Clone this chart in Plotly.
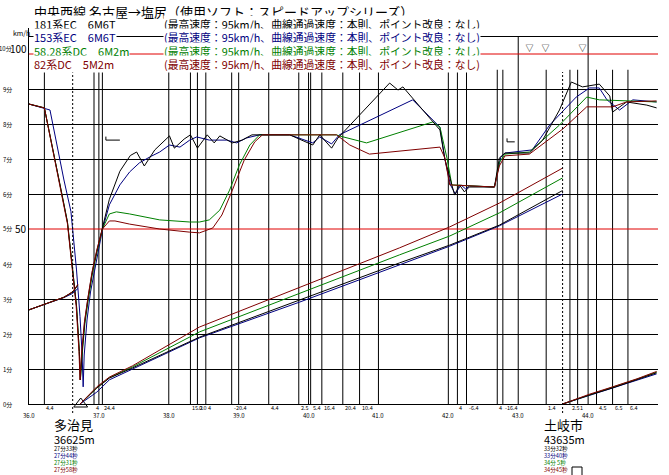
import plotly.graph_objects as go

FONT = "Noto Sans CJK JP"
W, H = 669, 475
L, R, T, B = 29, 11, 28, 71
PW, PH = W - L - R, H - T - B
KM_RANGE = [36.0, 45.0]
V_TOP = PH / 3.5          # 10 km/h per 35 px
MIN_TOP = V_TOP / 10.0    # time axis: 1 minute per grid step

title_text = "中央西線 名古屋→塩尻（使用ソフト：スピードアップシリーズ）"
series_names = ["181系EC　6M6T", "153系EC　6M6T", "58,28系DC　6M2m", "82系DC　5M2m"]
series_colors = ["#000000", "#000080", "#008000", "#800000"]
condition_text = "(最高速度：95km/h、曲線通過速度：本則、ポイント改良：なし)"

# ---------------- speed curves (km, km/h) ----------------
km_181 = [36.0, 36.22, 36.44, 36.55, 36.625, 36.68, 36.72, 36.735, 36.76, 36.80, 36.85, 36.91, 36.98, 37.05,
          37.15, 37.30, 37.45, 37.54, 37.65, 37.80, 38.01, 38.08, 38.22, 38.31, 38.41, 38.55, 38.65, 38.73,
          38.91, 39.05, 39.19, 39.73, 40.06, 40.16, 40.33, 40.42, 40.80, 41.16, 41.28, 41.35, 41.88, 41.95,
          42.05, 42.09, 42.16, 42.23, 42.30, 42.66, 42.73, 42.81, 43.16, 43.35, 43.59, 43.76, 43.92, 44.16,
          44.31, 44.35, 44.55, 44.84, 44.98]
v_181 = [85.7, 84.6, 63.0, 52.0, 38.3, 28.0, 15.0, 6.9, 15.0, 24.0, 31.0, 38.3, 44.5, 50.3,
         58.5, 66.5, 71.0, 72.0, 68.0, 72.6, 76.6, 73.1, 75.7, 76.9, 73.1, 76.9, 74.6, 76.6,
         74.6, 75.4, 76.9, 76.9, 74.0, 76.9, 73.1, 76.0, 84.0, 91.7, 89.7, 90.6, 78.3, 70.0,
         62.6, 59.7, 62.6, 60.6, 62.0, 62.0, 70.3, 71.7, 71.7, 75.4, 84.0, 92.0, 90.6, 91.4,
         88.0, 83.4, 86.3, 85.4, 84.6]

km_153 = [36.0, 36.22, 36.30, 36.50, 36.60, 36.68, 36.73, 36.76, 36.775, 36.79, 36.83, 36.88, 36.94, 37.05,
          37.15, 37.30, 37.44, 37.58, 37.73, 37.87, 38.01, 38.16, 38.30, 38.40, 38.58, 38.83, 38.97, 39.11,
          39.30, 39.73, 40.06, 40.16, 40.33, 40.44, 41.49, 41.88, 41.95, 42.03, 42.10, 42.18, 42.25, 42.30,
          42.66, 42.75, 42.81, 43.20, 43.45, 43.83, 44.02, 44.16, 44.27, 44.45, 44.64, 44.98]
v_153 = [85.7, 84.6, 84.0, 64.0, 55.0, 38.3, 25.0, 14.0, 4.9, 14.0, 24.0, 32.0, 38.3, 49.7,
         56.9, 62.6, 66.3, 68.9, 70.6, 72.0, 74.0, 73.4, 75.4, 76.3, 75.4, 75.4, 74.6, 76.0,
         76.9, 76.9, 74.6, 76.3, 74.3, 76.9, 86.9, 79.1, 70.0, 62.6, 60.0, 62.6, 61.4, 62.3,
         62.0, 70.5, 71.7, 72.6, 79.7, 87.7, 90.3, 90.3, 86.9, 84.0, 86.9, 86.3]

km_58 = [36.0, 36.22, 36.44, 36.55, 36.625, 36.68, 36.72, 36.735, 36.76, 36.80, 36.85, 36.91, 36.98, 37.05,
         37.15, 37.25, 37.44, 37.87, 38.30, 38.44, 38.58, 38.73, 38.87, 39.01, 39.16, 39.30, 40.40, 40.44,
         40.83, 41.78, 41.88, 41.98, 42.05, 42.66, 42.73, 42.81, 43.16, 43.59, 43.98, 44.16, 44.98]
v_58 = [85.7, 84.6, 63.0, 52.0, 38.3, 28.0, 15.0, 6.9, 14.0, 23.0, 30.0, 37.5, 44.0, 50.0,
        54.3, 54.9, 54.3, 52.6, 52.0, 52.0, 52.6, 55.4, 61.1, 68.3, 74.0, 76.9, 76.9, 76.6,
        74.6, 80.6, 79.1, 70.3, 62.6, 62.0, 69.0, 71.4, 72.0, 79.7, 87.7, 86.9, 86.3]

km_82 = [36.0, 36.22, 36.44, 36.55, 36.62, 36.675, 36.715, 36.73, 36.75, 36.79, 36.84, 36.90, 36.97, 37.05,
         37.15, 37.23, 37.44, 37.87, 38.30, 38.44, 38.63, 38.76, 38.91, 39.08, 39.23, 39.34, 40.40, 40.59,
         40.87, 41.88, 41.95, 42.02, 42.66, 42.73, 42.81, 43.16, 43.64, 43.98, 44.35, 44.55, 44.98]
v_82 = [85.7, 84.6, 62.5, 51.5, 38.3, 28.0, 15.0, 6.9, 14.0, 23.0, 30.0, 37.5, 44.0, 50.0,
        52.3, 52.3, 51.4, 50.0, 49.1, 48.9, 50.3, 54.0, 61.1, 69.7, 74.9, 76.9, 76.9, 74.0,
        71.4, 73.4, 70.3, 62.6, 62.0, 68.0, 70.9, 71.4, 78.6, 84.9, 84.9, 86.3, 86.6]

# ---------------- running-time curves (km, minutes) ----------------
time_km_pre = [36.0, 36.3, 36.5, 36.625, 36.70]
time_km_mid = [36.73, 36.97, 37.15, 37.48, 38.44, 39.87, 41.30, 42.02, 42.73, 43.635]
time_km_post = [43.635, 44.02, 44.35, 44.70, 44.98]
t_pre = [[2.69, 2.91, 3.05, 3.20, 3.40], [2.69, 2.91, 3.04, 3.16, 3.30],
         [2.69, 2.91, 3.05, 3.20, 3.40], [2.69, 2.91, 3.05, 3.21, 3.42]]
t_mid = [[0, 0.46, 0.74, 1.03, 1.91, 2.97, 4.03, 4.54, 5.11, 6.10],
         [0, 0.34, 0.69, 1.00, 1.89, 2.91, 3.97, 4.51, 5.09, 6.00],
         [0, 0.46, 0.75, 1.06, 2.06, 3.17, 4.26, 4.80, 5.46, 6.46],
         [0, 0.49, 0.77, 1.09, 2.20, 3.34, 4.46, 5.06, 5.74, 6.74]]
t_post = [[0, 0.26, 0.46, 0.69, 0.89], [0, 0.25, 0.45, 0.67, 0.86],
          [0, 0.27, 0.48, 0.71, 0.91], [0, 0.28, 0.49, 0.72, 0.93]]

# ---------------- track features ----------------
km_posts = [37.0, 38.0, 39.0, 40.0, 41.0, 42.0, 43.0, 44.0]
km_post_labels = ["36.0", "37.0", "38.0", "39.0", "40.0", "41.0", "42.0", "43.0", "44.0"]
km_post_label_pos = [36.0] + km_posts
grade_posts = [36.22, 36.93, 37.05, 38.31, 38.41, 38.53, 38.90, 39.43, 39.86, 40.03, 40.19, 40.49,
               40.73, 42.13, 42.26, 42.70, 42.78, 43.40, 43.74, 43.85, 44.12, 44.35, 44.57]
grade_labels = ["4.4", "4", "24.4", "15.2", "0.0", "4", "-20.4", "4.4", "2.5", "5.4", "16.4", "20.4",
                "10.4", "4", "-6.4", "4", "-16.4", "1.4", "2.5", "1", "4.5", "6.5", "6.4"]
station_km = [36.625, 43.635]
station_names = ["多治見", "土岐市"]
station_dist = ["36625m", "43635m"]
station_times = [["27分33秒", "27分44秒", "27分31秒", "27分58秒"],
                 ["33分32秒", "33分40秒", "34分 5秒", "34分45秒"]]
limit_km_from = [37.10, 42.84]
limit_km_to = [37.30, 42.95]
limit_kmh = [75.4, 74.9]
signal_km = [43.16, 43.39, 43.92]
stop_mark_km = 36.74
speed_ref_lines = [50, 100]
top_line_kmh = 105
minute_ticks = list(range(0, 10))

fig = go.Figure()

# vertical lines
def vl(kms, top):
    xs, ys = [], []
    for k in kms:
        xs += [k, k, None]
        ys += [0, top, None]
    return xs, ys

xs, ys = vl(grade_posts, 95.5)
fig.add_trace(go.Scatter(x=xs, y=ys, mode="lines", line=dict(color="black", width=1), hoverinfo="skip"))
xs, ys = vl(km_posts, top_line_kmh)
fig.add_trace(go.Scatter(x=xs, y=ys, mode="lines", line=dict(color="black", width=1), hoverinfo="skip"))

# horizontal reference lines
fig.add_trace(go.Scatter(x=KM_RANGE, y=[top_line_kmh] * 2, mode="lines",
                         line=dict(color="black", width=1), hoverinfo="skip"))
for v in speed_ref_lines:
    fig.add_trace(go.Scatter(x=KM_RANGE, y=[v, v], mode="lines",
                             line=dict(color="#e00000", width=1), hoverinfo="skip"))

# speed-limit marks
for a, b, v in zip(limit_km_from, limit_km_to, limit_kmh):
    fig.add_trace(go.Scatter(x=[a, a, b], y=[v + 1.0, v, v], mode="lines",
                             line=dict(color="black", width=1), hoverinfo="skip"))

# time curves (secondary axis)
order = [1, 2, 0, 3]
for i in order:
    xs = time_km_pre + [None] + time_km_mid + [None] + time_km_post
    ys = t_pre[i] + [None] + t_mid[i] + [None] + t_post[i]
    fig.add_trace(go.Scatter(x=xs, y=ys, yaxis="y2", mode="lines",
                             line=dict(color=series_colors[i], width=1), hoverinfo="skip"))

# speed curves
speed_km = [km_181, km_153, km_58, km_82]
speed_v = [v_181, v_153, v_58, v_82]
for i in order:
    fig.add_trace(go.Scatter(x=speed_km[i], y=speed_v[i], mode="lines",
                             line=dict(color=series_colors[i], width=1), hoverinfo="skip"))

# signal marks
fig.add_trace(go.Scatter(x=signal_km, y=[100.4] * len(signal_km), mode="text", text=["▽"] * len(signal_km),
                         textposition="top center", textfont=dict(size=8, color="black", family=FONT),
                         cliponaxis=False, hoverinfo="skip"))
# stop mark
fig.add_trace(go.Scatter(x=[stop_mark_km], y=[0], mode="markers",
                         marker=dict(symbol="triangle-up-open", size=12, color="black", line=dict(width=1)),
                         cliponaxis=False, hoverinfo="skip"))

def py(y_px):
    return (H - B - y_px) / PH

def px(x_px):
    return (x_px - L) / PW

ann = []
def A(x, y, text, size, color="black", xanchor="left", bg=None, xref="paper", xshift=0):
    d = dict(x=x, y=y, xref=xref, yref="paper", text=text, showarrow=False, xanchor=xanchor,
             yanchor="middle", font=dict(size=size, color=color, family=FONT), borderpad=0, xshift=xshift)
    if bg:
        d["bgcolor"] = bg
    ann.append(d)

A(px(33), py(12), title_text, 13)
row_y = [24.5, 37.5, 50.5, 63.5]
for i in range(4):
    A(px(33), py(row_y[i]), series_names[i], 11, series_colors[i], bg="white")
    A(px(163), py(row_y[i]), condition_text, 10.8, series_colors[i], bg="white")

A(px(21), py(33), "km/h", 7, xanchor="center")
A(px(28), py(49), "100", 10, xanchor="right")
A(px(28), py(229), "50", 10, xanchor="right")
for m in minute_ticks:
    A(px(13), py(404 - m * 35), f"{m}分", 6, xanchor="right")
A(px(13), py(49), "10分", 6, xanchor="right")

# distance / grade labels
for k, t in zip(km_post_label_pos, km_post_labels):
    A(k, py(415), t, 6, xanchor="center", xref="x")
for k, t in zip(grade_posts, grade_labels):
    A(k, py(407.5), t, 5.5, xanchor="left", xref="x", xshift=1)

# station labels
for j, k in enumerate(station_km):
    A(k, py(424.5), station_names[j], 13, xanchor="left", xref="x", xshift=-20)
    A(k, py(438.5), station_dist[j], 11, xanchor="left", xref="x", xshift=-20)
    for i in range(4):
        A(k, py(449 + i * 7.1), station_times[j][i], 5.6, series_colors[i], xanchor="left", xref="x", xshift=-20)

shapes = []
for k in station_km:
    shapes.append(dict(type="line", xref="x", yref="paper", x0=k, x1=k, y0=py(413), y1=py(72),
                       line=dict(color="black", width=1, dash="2px,2px")))
shapes.append(dict(type="rect", xref="paper", yref="paper", x0=px(572), x1=px(582), y0=py(476), y1=py(467),
                   line=dict(color="black", width=1)))

fig.update_layout(
    width=W, height=H, margin=dict(l=L, r=R, t=T, b=B, pad=0),
    paper_bgcolor="white", plot_bgcolor="white", showlegend=False,
    xaxis=dict(range=KM_RANGE, showgrid=False, zeroline=False, showticklabels=False, ticks="",
               showline=True, linecolor="black", linewidth=1),
    yaxis=dict(range=[0, V_TOP], tickvals=[10, 20, 30, 40, 60, 70, 80, 90], showticklabels=False, ticks="",
               showgrid=True, gridcolor="black", gridwidth=1, zeroline=False,
               showline=True, linecolor="black", linewidth=1),
    yaxis2=dict(range=[0, MIN_TOP], overlaying="y", visible=False),
    annotations=ann, shapes=shapes,
)

fig.write_html("out.html", config={"displayModeBar": False},
               post_script="document.body.style.margin='0';document.body.style.overflow='hidden';")
